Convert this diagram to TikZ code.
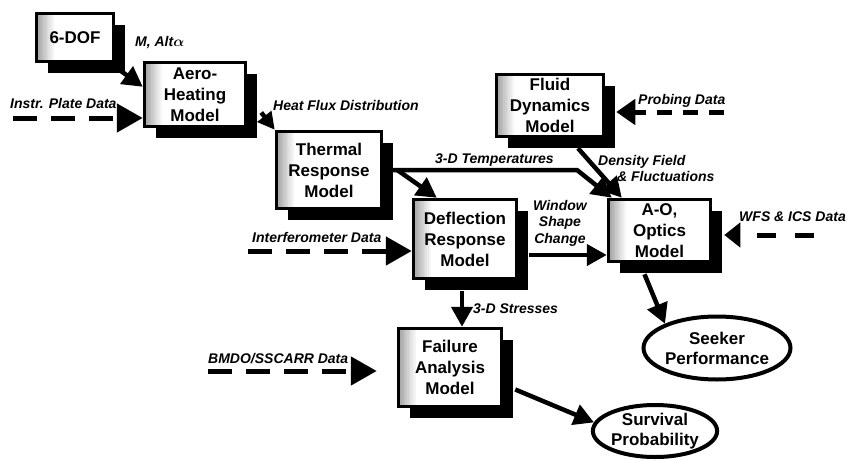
\documentclass[tikz,border=0pt]{standalone}
\usepackage{fontspec}
\setmainfont{Liberation Sans}
\usetikzlibrary{arrows.meta,calc,shadows,shapes.geometric}

\begin{document}
\begin{tikzpicture}[x=1pt, y=-1pt,
    model/.style={draw, line width=3.5pt, fill=white, inner sep=0pt, align=center,
        font=\fontsize{17}{21}\selectfont\bfseries,
        drop shadow={shadow xshift=11pt, shadow yshift=-11pt, fill=black, opacity=1},
        path picture={\foreach \i [evaluate=\i as \g using int(72-7*\i)] in {0,...,9}
            \fill[gray!\g] ([xshift={\i*1.7pt}]path picture bounding box.south west)
                rectangle ([xshift={\i*1.7pt+2pt}]path picture bounding box.north west);}},
    result/.style={draw, ellipse, line width=4pt, fill=white, inner sep=0pt, align=center,
        font=\fontsize{17}{20}\selectfont\bfseries},
    lab/.style={inner sep=0pt, font=\fontsize{14}{16}\selectfont\bfseries\itshape},
    conn/.style={line width=4.5pt, -{Triangle[length=20pt,width=21pt]}},
    data/.style={line width=5pt, dash pattern=on 24pt off 14pt, -{Triangle[length=26pt,width=28pt]}}
]
    \useasboundingbox (0,0) rectangle (847,461);

    \node[model, minimum width=77pt, minimum height=48pt] (sixdof) at (75,37.5) {6-DOF};
    \node[model, minimum width=101pt, minimum height=64pt] (aero) at (195,94.5) {Aero-\\Heating\\Model};
    \node[model, minimum width=105pt, minimum height=77pt] (thermal) at (329,170) {Thermal\\Response\\Model};
    \node[model, minimum width=103pt, minimum height=79pt] (deflection) at (465,239) {Deflection\\Response\\Model};
    \node[model, minimum width=103pt, minimum height=78pt] (failure) at (450,367.5) {Failure\\Analysis\\Model};
    \node[model, minimum width=107pt, minimum height=62pt] (fluid) at (550,105.5) {Fluid\\Dynamics\\Model};
    \node[model, minimum width=102pt, minimum height=62pt] (optics) at (659.5,230.5) {A-O,\\Optics\\Model};

    \node[result, minimum width=131pt, minimum height=63pt] (seeker) at (717,348) {Seeker\\Performance};
    \node[result, minimum width=114pt, minimum height=52pt] (survival) at (655,431) {Survival\\Probability};

    % data sources
    \coordinate (plate) at (13,118);
    \coordinate (interf) at (248,251);
    \coordinate (bmdo) at (208,371);
    \coordinate (probe) at (724,112);
    \coordinate (wfs) at (814,235);
    \coordinate (bend) at (577,170);

    \draw[conn] ($(sixdof.south east)+(6,8)$) -- ($(aero.north west)+(0,26)$);
    \draw[data] (plate) -- (plate -| aero.west);
    \draw[conn, -{Triangle[length=17pt,width=17pt]}] ($(aero.east)+(14,18)$) -- (thermal.north west);
    \draw[conn] (thermal.east) -- (bend) -- ($(optics.north west)+(5,0)$);
    \draw[conn] ($(thermal.east)+(14,0)$) -- ($(deflection.north west)+(25,0)$);
    \draw[conn] ($(fluid.south)+(28,10)$) -- ($(optics.north west)+(15,0)$);
    \draw[data, dash pattern=on 15pt off 11pt, -{Triangle[length=19pt,width=25pt]}] (probe) -- ($(probe -| fluid.east)+(11,0)$);
    \draw[data, dash pattern=on 19pt off 19pt, -{Triangle[length=16pt,width=24pt]}] (wfs) -- ($(wfs -| optics.east)+(12,0)$);
    \draw[conn] ($(deflection.east)+(11,16)$) -- ($(deflection.east -| optics.west)+(0,16)$);
    \draw[data] (interf) -- (interf -| deflection.west);
    \draw[conn] ($(deflection.south)+(-3,11)$) -- ($(failure.north)+(12,0)$);
    \draw[data, shorten >=20pt] (bmdo) -- (bmdo -| failure.west);
    \draw[conn] ($(failure.east)+(12,22)$) -- (survival.172);
    \draw[conn] ($(optics.south)+(-15,11)$) -- (seeker.155);

    % labels
    \node[lab, anchor=west] (machalt) at (135,43) {M, Alt{\boldmath$\alpha$}};
    \node[lab, anchor=west] (platelab) at (10,103) {Instr. Plate Data};
    \node[lab, anchor=west] (heatlab) at (273,105) {Heat Flux Distribution};
    \node[lab, anchor=west] (templab) at (435,160) {3-D Temperatures};
    \node[lab, anchor=west, align=left] (denslab) at (598,168) {Density Field\\\hspace*{19pt}\& Fluctuations};
    \node[lab, anchor=west] (probelab) at (638,101) {Probing Data};
    \node[lab, anchor=east] (wfslab) at (846,217) {WFS \& ICS Data};
    \node[lab, align=center, font=\fontsize{14}{16.5}\selectfont\bfseries\itshape] (windowlab) at (560,223) {Window\\Shape\\Change};
    \node[lab, anchor=west] (interflab) at (252,237) {Interferometer Data};
    \node[lab, anchor=west] (stresslab) at (473,309) {3-D Stresses};
    \node[lab, anchor=west] (bmdolab) at (208,359) {BMDO/SSCARR Data};
\end{tikzpicture}
\end{document}
